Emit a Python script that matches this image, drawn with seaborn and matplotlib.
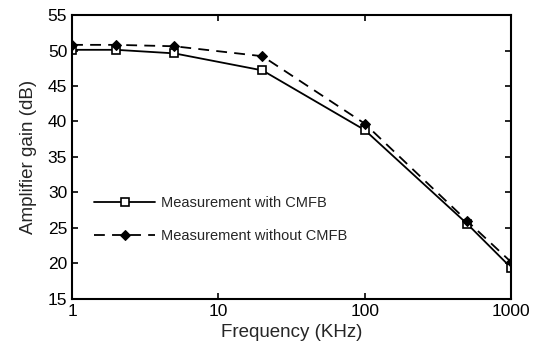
import matplotlib
matplotlib.use("Agg")
import matplotlib.pyplot as plt
import seaborn as sns
import pandas as pd
from matplotlib.ticker import FixedLocator, NullLocator, FixedFormatter

freq = [1, 2, 5, 20, 100, 500, 1000]
gain_with = [50.1, 50.1, 49.6, 47.2, 38.8, 25.6, 19.4]
gain_without = [50.8, 50.8, 50.6, 49.2, 39.7, 26.0, 20.2]
xticks = [1, 10, 100, 1000]
yticks = [15, 20, 25, 30, 35, 40, 45, 50, 55]

sns.set_style("ticks")
plt.rcParams['font.family'] = ['Liberation Sans', 'DejaVu Sans']

fig = plt.figure(figsize=(5.34, 3.5), dpi=100)
ax = fig.add_axes([0.135, 0.146, 0.822, 0.811])

df1 = pd.DataFrame({"f": freq, "g": gain_with})
df2 = pd.DataFrame({"f": freq, "g": gain_without})
sns.lineplot(data=df1, x="f", y="g", ax=ax, color="black", lw=1.3,
             marker="s", markersize=6, markerfacecolor="white",
             markeredgecolor="black", markeredgewidth=1.2,
             label="Measurement with CMFB")
sns.lineplot(data=df2, x="f", y="g", ax=ax, color="black", lw=1.3,
             linestyle=(0, (6, 4)), marker="D", markersize=5,
             markerfacecolor="black", markeredgecolor="black",
             label="Measurement without CMFB")

ax.set_xscale("log")
ax.set_xlim(1, 1000)
ax.set_ylim(15, 55)
ax.xaxis.set_major_locator(FixedLocator(xticks))
ax.xaxis.set_major_formatter(FixedFormatter([str(v) for v in xticks]))
ax.xaxis.set_minor_locator(NullLocator())
ax.set_yticks(yticks)
ax.tick_params(direction="in", length=4, width=1.2, labelsize=12.5,
               top=True, right=True, colors="black")
for s in ax.spines.values():
    s.set_visible(True)
    s.set_linewidth(1.5)
    s.set_color("black")
ax.set_xlabel("Frequency (KHz)", fontsize=13.5)
ax.set_ylabel("Amplifier gain (dB)", fontsize=13.5, labelpad=8)
ax.legend(loc="upper left", bbox_to_anchor=(0.02, 0.41), frameon=False,
          fontsize=10.5, handlelength=4.2, labelspacing=1.3, handletextpad=0.4)
fig.savefig("out.png", dpi=100)
